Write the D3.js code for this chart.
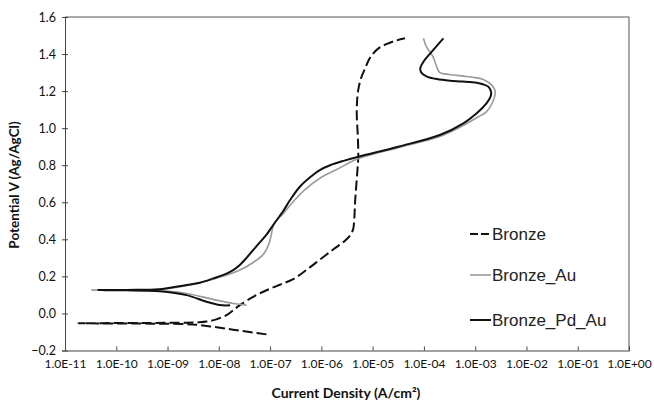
<!DOCTYPE html>
<html>
<head>
<meta charset="utf-8">
<script src="https://d3js.org/d3.v7.min.js"></script>
<style>
  body { margin: 0; background: #fff; }
  text { font-family: Lato, "Liberation Sans", sans-serif; }
  .legend text { font-family: "Liberation Sans", Arial, sans-serif; }
</style>
</head>
<body>
<div id="my_dataviz"></div>
<script>

// tick labels
var xTicks = ["1.0E-11", "1.0E-10", "1.0E-09", "1.0E-08", "1.0E-07", "1.0E-06",
              "1.0E-05", "1.0E-04", "1.0E-03", "1.0E-02", "1.0E-01", "1.0E+00"];
var yTicks = [-0.2, 0.0, 0.2, 0.4, 0.6, 0.8, 1.0, 1.2, 1.4, 1.6];

// series names
var seriesNames = ["Bronze", "Bronze_Au", "Bronze_Pd_Au"];

// Bronze: log10(current density) and potential
var bronzeLogI = [-7.07, -7.33, -7.59, -7.85, -8.11, -8.37, -8.63, -9.3, -10.0, -10.74,
  -10.0, -9.3, -8.63, -8.40, -8.24, -8.05, -7.85, -7.72, -7.59, -7.33, -7.07, -6.81,
  -6.55, -6.29, -6.03, -5.77, -5.55, -5.43, -5.38, -5.36, -5.34, -5.30, -5.28, -5.29,
  -5.31, -5.30, -5.27, -5.22, -5.15, -5.08, -5.00, -4.88, -4.72, -4.55, -4.37];
var bronzeV = [-0.113, -0.103, -0.093, -0.082, -0.072, -0.063, -0.058, -0.055, -0.054, -0.053,
  -0.052, -0.051, -0.050, -0.048, -0.044, -0.032, -0.009, 0.017, 0.045, 0.090, 0.125, 0.155,
  0.185, 0.235, 0.290, 0.345, 0.390, 0.425, 0.455, 0.500, 0.612, 0.760, 0.850, 0.960,
  1.080, 1.160, 1.223, 1.275, 1.320, 1.365, 1.400, 1.432, 1.455, 1.472, 1.485];

// Bronze_Au
var auLogI = [-7.46, -7.72, -8.11, -8.63, -9.15, -9.8, -10.48,
  -9.8, -9.15, -8.63, -8.11, -7.62, -7.33, -7.13, -7.03, -6.98, -6.92, -6.74, -6.56, -6.33,
  -6.00, -5.72, -5.31, -4.5, -3.69, -3.23, -2.95, -2.78, -2.66, -2.61, -2.66, -2.84,
  -3.05, -3.23, -3.50, -3.69, -3.75, -3.82, -3.95, -4.01];
var auV = [0.045, 0.054, 0.076, 0.108, 0.122, 0.125, 0.126,
  0.127, 0.130, 0.150, 0.185, 0.230, 0.275, 0.320, 0.370, 0.420, 0.486, 0.540, 0.600, 0.666,
  0.735, 0.774, 0.832, 0.895, 0.955, 1.015, 1.060, 1.088, 1.140, 1.196, 1.228, 1.263,
  1.275, 1.281, 1.290, 1.300, 1.331, 1.385, 1.439, 1.485];

// Bronze_Pd_Au
var pdLogI = [-7.78, -7.98, -8.24, -8.63, -9.15, -9.8, -10.35,
  -9.8, -9.15, -8.63, -8.37, -8.11, -7.85, -7.72, -7.59, -7.46, -7.26, -7.07, -6.94,
  -6.75, -6.61, -6.42, -6.22, -6.03, -5.83, -5.55, -5.28, -4.50, -3.69, -3.23, -2.97,
  -2.78, -2.70, -2.69, -2.74, -2.85, -2.97, -3.25, -3.49, -3.75, -3.95, -4.05, -4.07,
  -4.01, -3.85, -3.62];
var pdV = [0.044, 0.045, 0.063, 0.099, 0.120, 0.125, 0.126,
  0.127, 0.131, 0.153, 0.166, 0.189, 0.215, 0.234, 0.262, 0.300, 0.365, 0.425, 0.477,
  0.550, 0.612, 0.684, 0.735, 0.774, 0.800, 0.825, 0.846, 0.900, 0.963, 1.026, 1.080,
  1.134, 1.170, 1.196, 1.223, 1.237, 1.245, 1.252, 1.256, 1.265, 1.280, 1.300, 1.325,
  1.358, 1.412, 1.485];

var margin = {top: 17, right: 25, bottom: 54.5, left: 65},
    width = 654 - margin.left - margin.right,
    height = 405 - margin.top - margin.bottom;

var svg = d3.select("#my_dataviz")
  .append("svg")
    .attr("width", 654)
    .attr("height", 405)
  .append("g")
    .attr("transform", "translate(" + margin.left + "," + margin.top + ")");

var x = d3.scaleLog()
  .domain([1e-11, 1])
  .range([0, width]);

var y = d3.scaleLinear()
  .domain([-0.2, 1.6])
  .range([height, 0]);

// plot area frame (top and right)
svg.append("path")
  .attr("d", "M0,0H" + width + "V" + height)
  .attr("fill", "none")
  .attr("stroke", "#555")
  .attr("stroke-width", 1);

// X axis
var xAxis = svg.append("g")
  .attr("transform", "translate(0," + height + ")")
  .call(d3.axisBottom(x)
    .tickValues(xTicks.map(function(t) { return +t; }))
    .tickFormat(function(d, i) { return xTicks[i]; })
    .tickSize(-4)
    .tickPadding(9));
xAxis.select(".domain").attr("stroke", "#444");
xAxis.selectAll(".tick line").attr("stroke", "#444");
xAxis.selectAll("text")
  .style("font-size", "12px")
  .attr("fill", "#111");

// Y axis
var yAxis = svg.append("g")
  .call(d3.axisLeft(y)
    .tickValues(yTicks)
    .tickFormat(d3.format(".1f"))
    .tickSize(3)
    .tickPadding(6));
yAxis.select(".domain").attr("stroke", "#444");
yAxis.selectAll(".tick line").attr("stroke", "#444").attr("x2", 3).attr("x1", -3);
yAxis.selectAll("text")
  .style("font-size", "12.5px")
  .attr("fill", "#111");

// axis titles
svg.append("text")
  .attr("x", 281)
  .attr("y", 381)
  .attr("text-anchor", "middle")
  .style("font-size", "14px")
  .style("font-weight", "bold")
  .attr("fill", "#111")
  .text("Current Density (A/cm²)");

svg.append("text")
  .attr("transform", "translate(-46," + (168) + ") rotate(-90)")
  .attr("text-anchor", "middle")
  .style("font-size", "13.5px")
  .style("font-weight", "bold")
  .attr("fill", "#111")
  .text("Potential V (Ag/AgCl)");

var line = d3.line()
  .x(function(d) { return x(Math.pow(10, d[0])); })
  .y(function(d) { return y(d[1]); })
  .curve(d3.curveCatmullRom.alpha(0.5));

var series = [
  {name: seriesNames[0], data: d3.zip(bronzeLogI, bronzeV), color: "#111", w: 2, dash: "10,4"},
  {name: seriesNames[1], data: d3.zip(auLogI, auV), color: "#9a9a9a", w: 1.6, dash: null},
  {name: seriesNames[2], data: d3.zip(pdLogI, pdV), color: "#111", w: 2, dash: null}
];

svg.append("g")
  .selectAll("path")
  .data(series)
  .enter()
  .append("path")
    .attr("d", function(d) { return line(d.data); })
    .attr("fill", "none")
    .attr("stroke", function(d) { return d.color; })
    .attr("stroke-width", function(d) { return d.w; })
    .attr("stroke-dasharray", function(d) { return d.dash; });

// legend
var legendY = [234, 275, 320];
var legend = svg.append("g")
  .attr("class", "legend")
  .selectAll("g")
  .data(series)
  .enter()
  .append("g")
    .attr("transform", function(d, i) {
      return "translate(" + (470 - margin.left) + "," + (legendY[i] - margin.top) + ")";
    });
legend.append("line")
  .attr("x1", 0).attr("x2", 21)
  .attr("stroke", function(d) { return d.color; })
  .attr("stroke-width", function(d) { return d.w; })
  .attr("stroke-dasharray", function(d) { return d.dash ? "8,3" : null; });
legend.append("text")
  .attr("x", 22)
  .attr("dy", "0.35em")
  .style("font-size", "17px")
  .attr("fill", "#222")
  .text(function(d) { return d.name; });

</script>
</body>
</html>
